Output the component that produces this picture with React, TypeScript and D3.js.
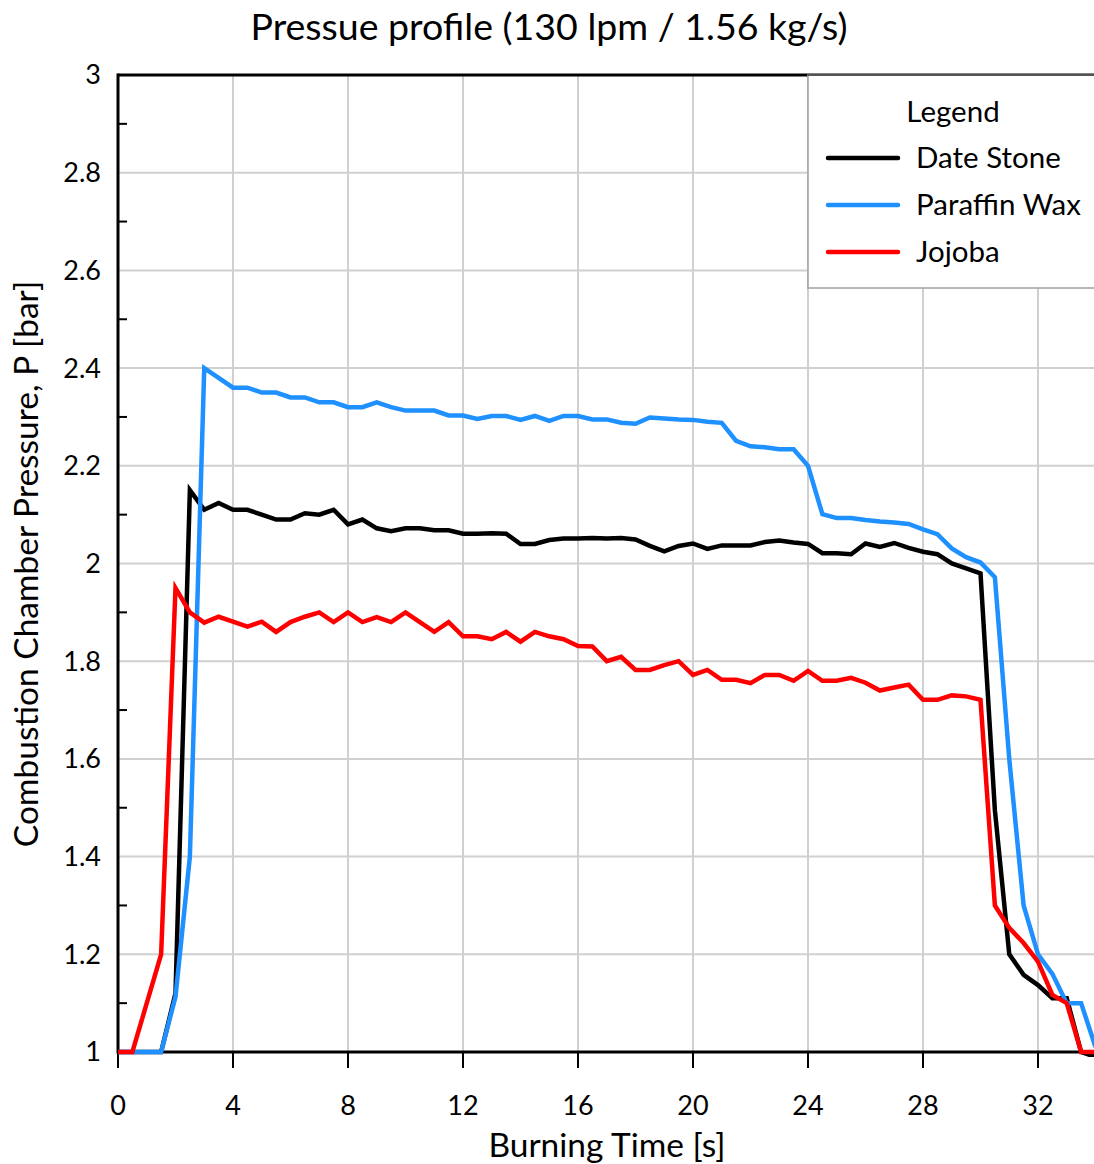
import React from "react";
import * as d3 from "d3";

const timeS: number[] = Array.from({ length: 69 }, (_, i) => i * 0.5);

const dateStone: number[] = [
  1, 1, 1, 1, 1.12, 2.15, 2.11, 2.124, 2.11, 2.11, 2.1, 2.09, 2.09, 2.103, 2.1, 2.11,
  2.08, 2.09, 2.072, 2.066, 2.072, 2.072, 2.068, 2.068, 2.061, 2.061, 2.062, 2.061,
  2.04, 2.04, 2.048, 2.051, 2.051, 2.052, 2.051, 2.052, 2.049, 2.036, 2.025, 2.036,
  2.041, 2.03, 2.037, 2.037, 2.037, 2.044, 2.047, 2.043, 2.04, 2.021, 2.021, 2.019,
  2.041, 2.034, 2.042, 2.032, 2.024, 2.019, 2.0, 1.99, 1.98, 1.495, 1.2, 1.158,
  1.137, 1.11, 1.11, 1.0, 0.99,
];

const paraffinWax: number[] = [
  1, 1, 1, 1, 1.113, 1.4, 2.4, 2.38, 2.36, 2.36, 2.35, 2.35, 2.34, 2.34, 2.33, 2.33,
  2.32, 2.32, 2.33, 2.32, 2.313, 2.313, 2.313, 2.303, 2.303, 2.296, 2.302, 2.302,
  2.294, 2.302, 2.292, 2.302, 2.302, 2.295, 2.295, 2.288, 2.286, 2.299, 2.297, 2.295,
  2.294, 2.29, 2.288, 2.251, 2.24, 2.238, 2.234, 2.234, 2.2, 2.101, 2.093, 2.093,
  2.089, 2.086, 2.084, 2.081, 2.07, 2.06, 2.031, 2.013, 2.002, 1.972, 1.6, 1.3,
  1.2, 1.16, 1.1, 1.1, 1.01,
];

const jojoba: number[] = [
  1, 1, 1.1, 1.2, 1.95, 1.9, 1.879, 1.891, 1.881, 1.871, 1.881, 1.86, 1.88, 1.891, 1.9,
  1.88, 1.9, 1.88, 1.89, 1.88, 1.9, 1.88, 1.86, 1.88, 1.851, 1.851, 1.845, 1.86, 1.84,
  1.86, 1.851, 1.845, 1.831, 1.83, 1.8, 1.809, 1.782, 1.782, 1.792, 1.8, 1.772, 1.782,
  1.762, 1.762, 1.755, 1.772, 1.772, 1.76, 1.78, 1.76, 1.76, 1.766, 1.756, 1.74, 1.746,
  1.752, 1.721, 1.721, 1.73, 1.728, 1.721, 1.3, 1.254, 1.223, 1.185, 1.117, 1.1, 1.0,
  1.0,
];

const seriesNames: string[] = ["Date Stone", "Paraffin Wax", "Jojoba"];
const seriesColors: string[] = ["#000000", "#1e90ff", "#ff0000"];
const seriesValues: number[][] = [dateStone, paraffinWax, jojoba];

const xTicks: number[] = [0, 4, 8, 12, 16, 20, 24, 28, 32];
const yTicks: number[] = [1, 1.2, 1.4, 1.6, 1.8, 2, 2.2, 2.4, 2.6, 2.8, 3];
const yMinorTicks: number[] = d3.range(1.1, 3.0, 0.2);

const FONT = "Lato, 'Open Sans', sans-serif";

export default function App() {
  const W = 1094;
  const H = 1164;
  const left = 118;
  const right = 1095.5;
  const top = 75;
  const bottom = 1052;

  const x = d3.scaleLinear().domain([0, 34]).range([left, right]);
  const y = d3.scaleLinear().domain([1, 3]).range([bottom, top]);

  const line = d3
    .line<number>()
    .x((_, i) => x(timeS[i]))
    .y((d) => y(d));

  const legX = 808;
  const legY = 75;

  return (
    <svg
      width={W}
      height={H}
      style={{ position: "absolute", left: 0, top: 0, background: "#fff" }}
      fontFamily={FONT}
    >
      <defs>
        <clipPath id="plotclip">
          <rect x={left - 3} y={top - 5} width={W - left + 3} height={bottom - top + 10} />
        </clipPath>
      </defs>
      {/* grid */}
      {xTicks.map((t) => (
        <line key={"gx" + t} x1={x(t)} x2={x(t)} y1={top} y2={bottom} stroke="#d0d0d0" strokeWidth={2} />
      ))}
      {yTicks.map((t) => (
        <line key={"gy" + t} x1={left} x2={W} y1={y(t)} y2={y(t)} stroke="#d0d0d0" strokeWidth={2} />
      ))}
      {/* top border */}
      <line x1={left} x2={W} y1={top} y2={top} stroke="#000" strokeWidth={3} />
      {/* axes */}
      <line x1={left} x2={left} y1={top - 1.5} y2={bottom + 1.5} stroke="#000" strokeWidth={3} />
      <line x1={left} x2={W} y1={bottom} y2={bottom} stroke="#000" strokeWidth={3} />
      {yMinorTicks.map((t) => (
        <line key={"my" + t} x1={left} x2={left + 9} y1={y(t)} y2={y(t)} stroke="#000" strokeWidth={2} />
      ))}
      {xTicks.map((t) => (
        <line key={"tx" + t} x1={x(t)} x2={x(t)} y1={bottom} y2={bottom + 16} stroke="#000" strokeWidth={2} />
      ))}
      {/* series */}
      <g clipPath="url(#plotclip)">
        {seriesValues.map((vals, k) => (
          <path
            key={seriesNames[k]}
            d={line(vals) || ""}
            fill="none"
            stroke={seriesColors[k]}
            strokeWidth={4.5}
            strokeLinejoin="miter"
          />
        ))}
      </g>
      {yTicks.map((t) => (
        <text key={"ly" + t} x={101} y={y(t)} dy="0.35em" textAnchor="end" fontSize={27} fill="#000">
          {d3.format("~g")(t)}
        </text>
      ))}
      {xTicks.map((t) => (
        <text key={"lx" + t} x={x(t)} y={1115} textAnchor="middle" fontSize={27} fill="#000">
          {t}
        </text>
      ))}
      {/* titles */}
      <text x={549} y={40} textAnchor="middle" fontSize={37.5} fill="#000">
        Pressue profile (130 lpm / 1.56 kg/s)
      </text>
      <text x={607} y={1157} textAnchor="middle" fontSize={33.5} fill="#000">
        Burning Time [s]
      </text>
      <text
        transform={`translate(38, 564) rotate(-90)`}
        textAnchor="middle"
        fontSize={33.5}
        fill="#000"
      >
        Combustion Chamber Pressure, P [bar]
      </text>
      {/* legend */}
      <rect x={legX} y={legY} width={W - legX + 5} height={213} fill="#fff" stroke="#a0a0a0" strokeWidth={1.5} />
      <line x1={legX} x2={W} y1={legY} y2={legY} stroke="#555" strokeWidth={2} />
      <text x={953} y={122} textAnchor="middle" fontSize={29.5} fill="#000">
        Legend
      </text>
      {seriesNames.map((n, k) => (
        <g key={"lg" + n}>
          <line x1={828} x2={898} y1={158 + k * 47} y2={158 + k * 47} stroke={seriesColors[k]} strokeWidth={4.5} strokeLinecap="round" />
          <text x={916} y={158 + k * 47} dy="0.35em" fontSize={29.5} fill="#000">
            {n}
          </text>
        </g>
      ))}
    </svg>
  );
}
